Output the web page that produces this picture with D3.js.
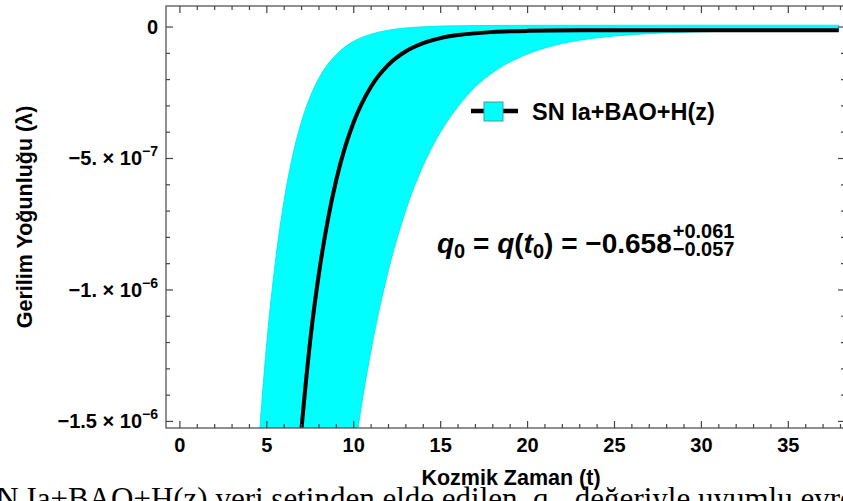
<!DOCTYPE html>
<html lang="tr">
<head>
    <meta charset="UTF-8">
    <title>Gerilim Yoğunluğu</title>
    <style>
        body, html {
            margin: 0;
            padding: 0;
            width: 100%;
            height: 100%;
            overflow: hidden;
            background: #fff;
        }
        svg text.bold {
            font-family: "Liberation Sans", Arial, sans-serif;
            font-weight: bold;
        }
    </style>
</head>
<body>
    <svg id="chart" width="843" height="501"></svg>

    <script src="https://cdnjs.cloudflare.com/ajax/libs/d3/7.8.5/d3.min.js"></script>
    <script>
        // values are in units of 1e-7
        const unit = 1e-7;

        // best fit curve
        const tCenter   = [6.9, 7.0, 7.5, 8.0, 8.5, 9.0, 9.5, 10, 11, 12, 13, 14, 15, 16, 18, 20, 23, 28, 33, 37.9];
        const lamCenter = [-16.0, -15.25, -11.9, -9.36, -7.37, -5.8, -4.57, -3.61, -2.26, -1.43, -0.92, -0.61, -0.42, -0.305, -0.19, -0.146, -0.126, -0.12, -0.12, -0.12];

        // upper (left) edge of the error band
        const tUpper   = [4.5, 4.6, 5.0, 5.5, 6.0, 6.5, 7.0, 7.5, 8.0, 9.0, 10, 11, 12, 14, 16, 20, 28, 37.9];
        const lamUpper = [-16.2, -15.25, -11.99, -8.88, -6.57, -4.85, -3.58, -2.64, -1.94, -1.04, -0.54, -0.27, -0.12, 0.01, 0.05, 0.065, 0.07, 0.07];

        // lower (right) edge of the error band
        const tLower   = [10.1, 10.25, 11, 12, 13, 14, 15, 16, 17, 18, 20, 22, 24, 26, 28, 30, 33, 37.9];
        const lamLower = [-15.95, -15.25, -12.29, -9.25, -6.97, -5.26, -3.98, -3.02, -2.27, -1.73, -1.03, -0.63, -0.41, -0.29, -0.22, -0.18, -0.15, -0.135];

        const xTicks = [0, 5, 10, 15, 20, 25, 30, 35];
        const yTicks = [0, -5e-7, -1e-6, -1.5e-6];
        const yTickLabels = [
            { mant: "0", exp: null },
            { mant: "\u22125.", exp: "\u22127" },
            { mant: "\u22121.", exp: "\u22126" },
            { mant: "\u22121.5", exp: "\u22126" }
        ];

        const legendLabel = "SN Ia+BAO+H(z)";
        const xTitle = "Kozmik Zaman (t)";
        const yTitle = "Gerilim Yoğunluğu (λ)";
        const caption = "SN Ia+BAO+H(z) veri setinden elde edilen  q\u2080  değeriyle uyumlu evren";

        const svg = d3.select("#chart");
        const pLeft = 166, pRight = 845, pTop = 6, pBottom = 428;

        const x = d3.scaleLinear().domain([-0.8, 38.26]).range([pLeft, pRight]);
        const y = d3.scaleLinear().domain([-1.525e-6, 0.8e-7]).range([pBottom, pTop]);

        svg.append("clipPath").attr("id", "plot-clip")
            .append("rect")
            .attr("x", pLeft).attr("y", pTop)
            .attr("width", pRight - pLeft).attr("height", pBottom - pTop);

        const plot = svg.append("g").attr("clip-path", "url(#plot-clip)");

        const pts = (ts, vs) => ts.map((t, i) => [t, vs[i] * unit]);
        const line = d3.line()
            .x(d => x(d[0]))
            .y(d => y(d[1]))
            .curve(d3.curveMonotoneX);

        // band: upper edge left->right, then lower edge right->left
        const upperD = line(pts(tUpper, lamUpper));
        const lowerD = line(pts(tLower, lamLower).reverse());
        plot.append("path")
            .attr("d", upperD + lowerD.replace(/^M/, "L") + "Z")
            .attr("fill", "#00ffff")
            .attr("stroke", "#00e4e4")
            .attr("stroke-width", 0.8);

        plot.append("path")
            .attr("d", line(pts(tCenter, lamCenter)))
            .attr("fill", "none")
            .attr("stroke", "#000")
            .attr("stroke-width", 4);

        // frame
        svg.append("rect")
            .attr("x", pLeft).attr("y", pTop)
            .attr("width", pRight - pLeft).attr("height", pBottom - pTop)
            .attr("fill", "none")
            .attr("stroke", "#555")
            .attr("stroke-width", 1.3);

        // x ticks (bottom and top, pointing inward)
        const xMinor = d3.range(0, 39);
        const tickG = svg.append("g").attr("stroke", "#444").attr("stroke-width", 1.2);
        xMinor.forEach(t => {
            const len = t % 5 === 0 ? 7 : 4;
            tickG.append("line").attr("x1", x(t)).attr("x2", x(t)).attr("y1", pBottom).attr("y2", pBottom - len);
            tickG.append("line").attr("x1", x(t)).attr("x2", x(t)).attr("y1", pTop).attr("y2", pTop + len);
        });

        // y ticks
        const yMinor = d3.range(-15, 1).map(k => k * 1e-7);
        yMinor.forEach(v => {
            const major = Math.round(v / 1e-7) % 5 === 0;
            const len = major ? 7 : 4;
            tickG.append("line").attr("x1", pLeft).attr("x2", pLeft + len).attr("y1", y(v)).attr("y2", y(v));
            tickG.append("line").attr("x1", pRight).attr("x2", pRight - len).attr("y1", y(v)).attr("y2", y(v));
        });

        // x tick labels
        svg.append("g").selectAll("text")
            .data(xTicks)
            .enter()
            .append("text")
            .attr("class", "bold")
            .attr("x", d => x(d))
            .attr("y", 452)
            .attr("text-anchor", "middle")
            .attr("font-size", 20)
            .text(d => d);

        // y tick labels
        yTicks.forEach((v, i) => {
            const lab = yTickLabels[i];
            const tx = svg.append("text")
                .attr("class", "bold")
                .attr("x", 158)
                .attr("y", y(v) + 7)
                .attr("text-anchor", "end")
                .attr("font-size", 20);
            if (lab.exp === null) {
                tx.text(lab.mant);
            } else {
                tx.append("tspan").text(lab.mant + " ");
                tx.append("tspan").text("\u00d7");
                tx.append("tspan").text(" 10");
                tx.append("tspan").attr("font-size", 14).attr("dy", -9).text(lab.exp);
            }
        });

        // axis titles
        svg.append("text")
            .attr("class", "bold")
            .attr("x", 511)
            .attr("y", 485)
            .attr("text-anchor", "middle")
            .attr("font-size", 21.5)
            .text(xTitle);

        svg.append("text")
            .attr("class", "bold")
            .attr("transform", "translate(32,217) rotate(-90)")
            .attr("text-anchor", "middle")
            .attr("font-size", 21.5)
            .text(yTitle);

        // legend
        const lg = svg.append("g");
        lg.append("line")
            .attr("x1", 471).attr("x2", 518)
            .attr("y1", 111).attr("y2", 111)
            .attr("stroke", "#000").attr("stroke-width", 4.5);
        lg.append("rect")
            .attr("x", 484).attr("y", 102)
            .attr("width", 19).attr("height", 19)
            .attr("fill", "#00ffff")
            .attr("stroke", "#3aa0a0").attr("stroke-width", 1);
        lg.append("text")
            .attr("class", "bold")
            .attr("x", 532).attr("y", 120)
            .attr("font-size", 23.5)
            .text(legendLabel);

        // q0 annotation
        const fx = 437, fy = 253;
        const ft = svg.append("text").attr("class", "bold").attr("x", fx).attr("y", fy).attr("font-size", 28);
        ft.append("tspan").attr("font-style", "italic").text("q");
        ft.append("tspan").attr("font-size", 20).attr("dy", 5).text("0");
        ft.append("tspan").attr("dy", -5).text(" = ");
        ft.append("tspan").attr("font-style", "italic").text("q");
        ft.append("tspan").text("(");
        ft.append("tspan").attr("font-style", "italic").text("t");
        ft.append("tspan").attr("font-size", 20).attr("dy", 5).text("0");
        ft.append("tspan").attr("dy", -5).text(") = \u22120.658");
        const fw = ft.node().getComputedTextLength();
        svg.append("text").attr("class", "bold").attr("x", fx + fw + 1).attr("y", fy - 15).attr("font-size", 20).text("+0.061");
        svg.append("text").attr("class", "bold").attr("x", fx + fw + 1).attr("y", fy + 3).attr("font-size", 20).text("\u22120.057");

        // caption of the page below the figure (cut off)
        svg.append("text")
            .attr("x", -21)
            .attr("y", 509)
            .attr("font-size", 31)
            .style("font-family", "'Liberation Serif', 'Times New Roman', serif")
            .style("font-weight", "normal")
            .style("white-space", "pre")
            .text(caption);
    </script>
</body>
</html>
